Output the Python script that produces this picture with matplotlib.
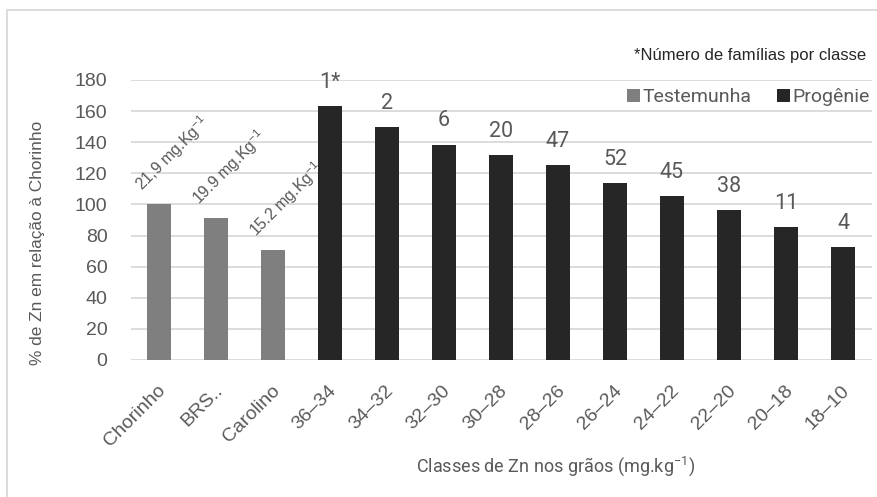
import matplotlib
matplotlib.use("Agg")
import matplotlib.pyplot as plt
from matplotlib.patches import Patch, Rectangle
import matplotlib.transforms as mtransforms
from matplotlib import font_manager

# ---- data ----
categories = ["Chorinho", "BRS..", "Carolino", "36\u201334", "34\u201332", "32\u201330",
              "30\u201328", "28\u201326", "26\u201324", "24\u201322", "22\u201320",
              "20\u201318", "18\u201310"]
check_values = [100, 91.3, 71]
progeny_values = [163.3, 149.7, 138.5, 132, 125.5, 113.6, 105.2, 96.2, 85.5, 72.4]
check_labels = ["21,9 mg.Kg$^{-1}$", "19.9 mg.Kg$^{-1}$", "15.2 mg.Kg$^{-1}$"]
family_counts = ["1*", "2", "6", "20", "47", "52", "45", "38", "11", "4"]
yticks = [0, 20, 40, 60, 80, 100, 120, 140, 160, 180]

available = {f.name for f in font_manager.fontManager.ttflist}
sans = "Liberation Sans" if "Liberation Sans" in available else "DejaVu Sans"
cond = "Roboto" if "Roboto" in available else sans

plt.rcParams["font.family"] = [sans, "DejaVu Sans"]
plt.rcParams["mathtext.fontset"] = "custom"
plt.rcParams["mathtext.rm"] = sans
plt.rcParams["mathtext.it"] = sans
plt.rcParams["mathtext.default"] = "regular"

TXT = "#595959"
GRID = "#d9d9d9"
C_CHECK = "#7f7f7f"
C_PROG = "#262626"

W, H = 877, 497
fig = plt.figure(figsize=(W / 100, H / 100), dpi=100)
fig.patch.set_facecolor("white")

# outer chart border (cut by image edge on right/bottom)
fig.patches.append(Rectangle((7 / W, -0.05), 1.0, 1 - 10 / H + 0.05, transform=fig.transFigure,
                             fill=False, edgecolor=GRID, linewidth=1.3))

ax = fig.add_axes([130.5 / W, 1 - 360 / H, (871.5 - 130.5) / W, 280 / H])
n_check = len(check_values)
x_check = list(range(n_check))
x_prog = list(range(n_check, n_check + len(progeny_values)))
bw = 0.42
ax.bar(x_check, check_values, width=bw, color=C_CHECK, zorder=3)
ax.bar(x_prog, progeny_values, width=bw, color=C_PROG, zorder=3)

ax.set_xlim(-0.5, len(categories) - 0.5)
ax.set_ylim(0, 180)
ax.set_yticks(yticks)
ax.yaxis.grid(True, color=GRID, linewidth=1.3, zorder=0)
ax.set_axisbelow(True)
for s in ax.spines.values():
    s.set_visible(False)
ax.tick_params(axis="both", length=0, colors=TXT, labelsize=14)
ax.tick_params(axis="y", pad=16.5)

ax.set_xticks(range(len(categories)))
ax.set_xticklabels(categories, rotation=45, ha="right", va="center", rotation_mode="anchor",
                   fontsize=14)
offset = mtransforms.ScaledTranslation(4 / 100, -23 / 100, fig.dpi_scale_trans)
for lab in ax.get_xticklabels():
    lab.set_transform(lab.get_transform() + offset)

# rotated labels over check bars
for xi, v, t in zip(x_check, check_values, check_labels):
    ax.annotate(t, (xi, v), xytext=(-12, 9), textcoords="offset points",
                rotation=45, rotation_mode="anchor", ha="left", va="baseline",
                fontsize=11.5, color=TXT)

# family counts over progeny bars
for xi, v, t in zip(x_prog, progeny_values, family_counts):
    ax.annotate(t, (xi, v), xytext=(0, 13), textcoords="offset points",
                ha="center", va="baseline", fontsize=15.5, color=TXT,
                family=[cond, "DejaVu Sans"])

# y label
fig.text(38 / W, 1 - 242.5 / H, "% de Zn em relação à Chorinho", rotation=90,
         ha="center", va="center", fontsize=12.4, color=TXT)
# x title
fig.text(556 / W, 1 - 466 / H, "Classes de Zn nos grãos (mg.kg$^{-1}$)",
         ha="center", va="center", fontsize=13, color=TXT,
         family=[cond, "DejaVu Sans"])
# footnote
fig.text(866 / W, 1 - 60 / H, "*Número de famílias por classe", ha="right",
         va="baseline", fontsize=12, color="#262626")

handles = [Patch(facecolor=C_CHECK, label="Testemunha"),
           Patch(facecolor=C_PROG, label="Progênie")]
leg = fig.legend(handles=handles, loc="center right", bbox_to_anchor=(870 / W, 1 - 97 / H),
                 ncol=2, frameon=False, handlelength=0.65, handleheight=0.65,
                 handletextpad=0.15, columnspacing=1.3, borderpad=0, borderaxespad=0,
                 prop={"family": [cond, "DejaVu Sans"], "size": 14})
for t in leg.get_texts():
    t.set_color(TXT)

fig.savefig("out.png", dpi=100)
